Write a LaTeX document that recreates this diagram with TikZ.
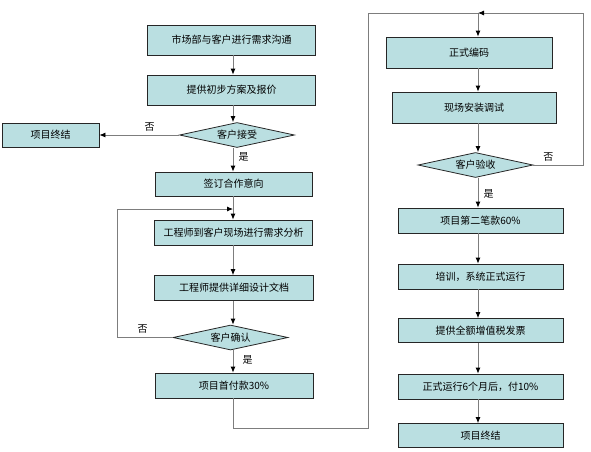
\documentclass[tikz,border=0pt]{standalone}
\usepackage{fontspec}
\newfontfamily\cjk{Noto Sans CJK SC}
\usetikzlibrary{arrows.meta,shapes.geometric}
\definecolor{boxfill}{RGB}{186,223,225}
\definecolor{linegray}{RGB}{125,125,125}
\tikzset{
  stepbox/.style={draw=black!85, fill=boxfill, line width=0.8pt, inner sep=0pt,
    text centered, font=\cjk\fontsize{10}{12}\selectfont},
  checkbox/.style={diamond, aspect=4.6, draw=black!85, fill=boxfill, line width=0.8pt,
    inner sep=0pt, minimum width=115pt, minimum height=25pt, font=\cjk\fontsize{10}{12}\selectfont},
  link/.style={draw=linegray, line width=0.8pt},
  answer/.style={font=\cjk\fontsize{10}{12}\selectfont, text=black}
}
\begin{document}
\begin{tikzpicture}[x=1pt,y=-1pt,>={Latex[length=6pt,width=5pt,color=black]}]
  \useasboundingbox (0,0) rectangle (591,451);
  \coordinate (cl) at (233,0);
  \coordinate (cr) at (478,0);
  %% left column
  \node[stepbox, minimum width=168pt, minimum height=30pt] at (231.5,40) (M1) {市场部与客户进行需求沟通};
  \node[stepbox, minimum width=168pt, minimum height=30pt] at (231.5,90) (M2) {提供初步方案及报价};
  \node[checkbox] at (237,135) (D1) {客户接受};
  \node[stepbox, minimum width=97pt, minimum height=24pt] at (50.5,135) (E1) {项目终结};
  \node[stepbox, minimum width=157pt, minimum height=24pt] at (233.5,184) (M3) {签订合作意向};
  \node[stepbox, minimum width=158pt, minimum height=25pt] at (233.5,232.5) (M4) {工程师到客户现场进行需求分析};
  \node[stepbox, minimum width=159pt, minimum height=25pt] at (234,288) (M5) {工程师提供详细设计文档};
  \node[checkbox] at (230.5,337.5) (D2) {客户确认};
  \node[stepbox, minimum width=158pt, minimum height=25pt] at (234,385.5) (M6) {项目首付款30\%};
  %% right column
  \node[stepbox, minimum width=166pt, minimum height=31pt] at (469,52.5) (R1) {正式编码};
  \node[stepbox, minimum width=164pt, minimum height=31pt] at (474,107.5) (R2) {现场安装调试};
  \node[checkbox] at (475.5,165) (D3) {客户验收};
  \node[stepbox, minimum width=165pt, minimum height=25pt] at (480.5,220.5) (R3) {项目第二笔款60\%};
  \node[stepbox, minimum width=165pt, minimum height=25pt] at (480.5,276.5) (R4) {培训，系统正式运行};
  \node[stepbox, minimum width=165pt, minimum height=24pt] at (480.5,330.5) (R5) {提供全额增值税发票};
  \node[stepbox, minimum width=165pt, minimum height=25pt] at (480.5,386.5) (R6) {正式运行6个月后，付10\%};
  \node[stepbox, minimum width=165pt, minimum height=24pt] at (480.5,435.5) (R7) {项目终结};
  %% bends of the loops
  \coordinate (K1) at (117,209);
  \coordinate (J1) at (233,209);
  \coordinate (K2) at (368,428);
  \coordinate (J2) at (478,13);
  \coordinate (K3) at (583,13);
  %% left links
  \draw[link,->] (M1.south -| cl) -- (M2.north -| cl);
  \draw[link,->] (M2.south -| cl) -- (D1.north -| cl);
  \draw[link,->] (D1.west) -- (E1.east) node[answer,pos=0.37,above]{否};
  \draw[link,->] (D1.south -| cl) -- (M3.north -| cl) node[answer,pos=0.4,right,xshift=2pt]{是};
  \draw[link,->] (M3.south -| cl) -- (M4.north -| cl);
  \draw[link,->] (M4.south -| cl) -- (M5.north -| cl);
  \draw[link,->] (M5.south -| cl) -- (D2.north -| cl);
  \draw[link,->] (D2.south -| cl) -- (M6.north -| cl) node[answer,pos=0.45,right,xshift=6pt]{是};
  \draw[link,->] (D2.west) -| (K1) node[answer,pos=0.27,above]{否} -- (J1);
  %% over to the right
  \draw[link] (M6.south -| cl) |- (K2) |- (J2);
  \draw[link,->] (J2) -- (R1.north -| cr);
  %% right links
  \draw[link,->] (R1.south -| cr) -- (R2.north -| cr);
  \draw[link,->] (R2.south -| cr) -- (D3.north -| cr);
  \draw[link,->] (D3.east) -| (K3) node[answer,pos=0.15,above]{否} -- (J2);
  \draw[link,->] (D3.south -| cr) -- (R3.north -| cr) node[answer,pos=0.55,right,xshift=2pt]{是};
  \draw[link,->] (R3.south -| cr) -- (R4.north -| cr);
  \draw[link,->] (R4.south -| cr) -- (R5.north -| cr);
  \draw[link,->] (R5.south -| cr) -- (R6.north -| cr);
  \draw[link,->] (R6.south -| cr) -- (R7.north -| cr);
\end{tikzpicture}
\end{document}
